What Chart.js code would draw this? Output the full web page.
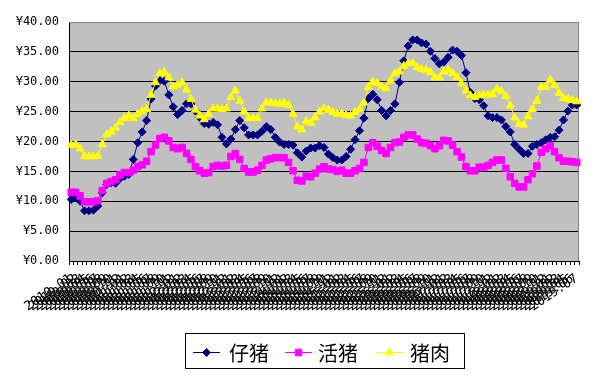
<!DOCTYPE html>
<html>
<head>
<meta charset="utf-8">
<script src="https://cdn.jsdelivr.net/npm/chart.js@4/dist/chart.umd.min.js"></script>
<style>
html,body{margin:0;padding:0;background:#fff;}
#wrap{width:595px;height:378px;position:relative;}
</style>
</head>
<body>
<div id="wrap"><canvas id="c" width="595" height="378"></canvas></div>
<script>
const categories = [
"2010.01","2010.02","2010.03","2010.04","2010.05","2010.06","2010.07","2010.08","2010.09","2010.10","2010.11","2010.12",
"2011.01","2011.02","2011.03","2011.04","2011.05","2011.06","2011.07","2011.08","2011.09","2011.10","2011.11","2011.12",
"2012.01","2012.02","2012.03","2012.04","2012.05","2012.06","2012.07","2012.08","2012.09","2012.10","2012.11","2012.12",
"2013.01","2013.02","2013.03","2013.04","2013.05","2013.06","2013.07","2013.08","2013.09","2013.10","2013.11","2013.12",
"2014.01","2014.02","2014.03","2014.04","2014.05","2014.06","2014.07","2014.08","2014.09","2014.10","2014.11","2014.12",
"2015.01","2015.02","2015.03","2015.04","2015.05","2015.06","2015.07","2015.08","2015.09","2015.10","2015.11","2015.12",
"2016.01","2016.02","2016.03","2016.04","2016.05","2016.06","2016.07","2016.08","2016.09","2016.10","2016.11","2016.12",
"2017.01","2017.02","2017.03","2017.04","2017.05","2017.06","2017.07","2017.08","2017.09","2017.10","2017.11","2017.12",
"2018.01","2018.02","2018.03","2018.04","2018.05","2018.06","2018.07","2018.08","2018.09","2018.10","2018.11","2018.12",
"2019.01","2019.02","2019.03","2019.04","2019.05","2019.06","2019.07"
];

const seriesNames = ["仔猪", "活猪", "猪肉"];

const piglet = [
10.3,10.6,10.0,8.4,8.4,8.5,9.2,11.4,12.8,13.1,13.0,13.8,
14.2,14.5,17.0,19.8,21.6,23.5,27.1,29.3,30.2,30.1,27.8,25.8,
24.5,25.2,26.3,26.3,25.1,24.0,23.0,22.9,23.2,22.8,20.7,19.6,
20.4,22.0,23.5,22.3,21.1,21.1,21.1,21.7,22.5,22.0,20.7,19.9,
19.5,19.5,19.4,18.1,17.4,18.4,18.9,18.9,19.3,19.0,17.9,17.3,
16.9,16.9,17.5,18.7,20.3,21.8,23.9,27.2,27.9,27.0,25.2,24.3,
25.2,26.3,29.9,33.5,36.0,37.0,37.0,36.5,36.3,35.1,33.9,33.0,
33.3,34.1,35.3,35.1,34.4,31.5,28.2,27.2,27.0,26.0,24.3,24.0,
24.0,23.6,22.5,21.6,19.5,18.7,18.0,18.0,19.2,19.5,19.8,20.3,
20.7,20.8,21.9,23.6,25.1,26.1,26.1
];

const liveHog = [
11.5,11.5,10.9,9.9,9.9,9.9,10.1,11.8,13.0,13.3,13.6,14.4,
14.8,14.8,15.2,15.8,16.1,16.7,18.3,19.4,20.5,20.7,20.1,19.0,
18.8,19.0,18.0,17.0,15.8,15.1,14.7,14.8,15.8,16.0,15.9,16.0,
17.5,18.0,17.0,15.5,14.9,14.9,15.2,16.0,16.9,17.1,17.3,17.3,
17.3,16.5,15.1,13.5,13.4,14.2,14.1,14.7,15.4,15.8,15.4,15.3,
15.0,15.2,14.7,14.7,15.1,15.5,16.5,19.0,19.8,19.2,18.5,18.0,
19.0,19.8,19.9,20.7,21.1,21.1,20.4,19.8,19.7,19.3,18.8,19.3,
20.2,20.1,19.4,18.3,17.4,15.8,15.1,15.1,15.7,15.7,16.0,16.5,
16.9,16.9,15.5,14.1,13.0,12.4,12.4,13.6,14.6,15.9,18.2,18.8,
19.3,18.3,17.3,16.7,16.7,16.6,16.5
];

const pork = [
19.4,19.5,18.8,17.5,17.5,17.5,17.6,19.5,21.2,21.6,22.3,23.2,
23.9,24.3,23.9,24.6,25.1,25.4,27.8,29.9,31.4,31.6,30.7,29.2,
29.5,29.9,28.7,27.1,25.3,24.3,23.7,24.6,25.5,25.5,25.4,25.5,
27.4,28.5,26.8,25.0,23.9,23.9,23.9,25.5,26.5,26.5,26.4,26.3,
26.5,26.1,24.6,22.5,22.0,23.4,23.1,24.0,25.0,25.5,25.3,24.9,
24.6,24.7,24.4,24.3,24.9,25.4,26.5,29.1,30.0,29.8,29.2,28.9,
30.2,31.4,31.7,32.6,33.1,33.1,32.4,32.1,32.0,31.6,30.7,30.7,
31.7,32.0,31.4,30.7,29.7,28.5,27.7,27.4,27.7,27.8,27.8,27.9,
28.8,28.4,27.6,26.0,24.0,22.9,22.8,24.2,25.4,26.8,29.1,29.1,
30.3,29.4,28.1,27.3,27.1,26.9,26.7
];

const yTicks = [0, 5, 10, 15, 20, 25, 30, 35, 40];

const colors = ["#000080", "#FF00FF", "#FFFF00"];
const styles = ["rectRot", "rect", "triangle"];
const radii = [4, 4.6, 4.6];

const plotBg = {
  id: 'plotBg',
  beforeDraw(chart) {
    const a = chart.chartArea, ctx = chart.ctx;
    ctx.save();
    ctx.fillStyle = '#C0C0C0';
    ctx.fillRect(a.left, a.top, a.right - a.left, a.bottom - a.top);
    ctx.restore();
  },
  beforeDatasetsDraw(chart) {
    const a = chart.chartArea, ctx = chart.ctx;
    ctx.save();
    ctx.strokeStyle = '#808080';
    ctx.lineWidth = 1;
    ctx.beginPath();
    ctx.moveTo(a.left, a.top + 0.5);
    ctx.lineTo(a.right - 0.5, a.top + 0.5);
    ctx.lineTo(a.right - 0.5, a.bottom);
    ctx.stroke();
    ctx.restore();
  }
};

const boxLegend = {
  id: 'boxLegend',
  afterDraw(chart) {
    const ctx = chart.ctx;
    ctx.save();
    ctx.strokeStyle = '#000';
    ctx.lineWidth = 1;
    ctx.strokeRect(185.5, 333.5, 279, 35);
    const items = [
      {lx: 193, tx: 229},
      {lx: 285, tx: 318},
      {lx: 376, tx: 410}
    ];
    const cy = 352;
    items.forEach((it, i) => {
      ctx.strokeStyle = colors[i];
      ctx.lineWidth = 1;
      ctx.beginPath();
      ctx.moveTo(it.lx, cy + 0.5);
      ctx.lineTo(it.lx + 27, cy + 0.5);
      ctx.stroke();
      ctx.fillStyle = colors[i];
      Chart.helpers.drawPoint(ctx, {pointStyle: styles[i], radius: radii[i], borderWidth: 1}, it.lx + 13.5, cy + 0.5);
      ctx.fillStyle = '#000';
      ctx.font = '20px "Noto Sans CJK SC"';
      ctx.textBaseline = 'middle';
      ctx.textAlign = 'left';
      ctx.fillText(seriesNames[i], it.tx, cy + 1);
    });
    ctx.restore();
  }
};

function ds(label, data, i, order) {
  return {
    label: label,
    data: data,
    borderColor: colors[i],
    backgroundColor: colors[i],
    borderWidth: 1,
    pointStyle: styles[i],
    pointRadius: radii[i],
    pointBorderWidth: 1,
    pointBorderColor: colors[i],
    pointBackgroundColor: colors[i],
    tension: 0,
    order: order
  };
}

new Chart(document.getElementById('c'), {
  type: 'line',
  data: {
    labels: categories,
    datasets: [
      ds(seriesNames[0], piglet, 0, 2),
      ds(seriesNames[1], liveHog, 1, 1),
      ds(seriesNames[2], pork, 2, 0)
    ]
  },
  options: {
    responsive: false,
    animation: false,
    events: [],
    layout: {padding: {top: 22, right: 16, left: 0, bottom: 0}},
    plugins: {legend: {display: false}, tooltip: {enabled: false}},
    scales: {
      x: {
        offset: true,
        afterFit(scale) { scale.height = 117; },
        grid: {offset: true, drawOnChartArea: false, drawTicks: true, tickLength: 4, color: '#000'},
        border: {display: true, color: '#000'},
        ticks: {
          autoSkip: false, maxRotation: 34, minRotation: 34, padding: 6,
          color: '#000',
          font: {family: '"DejaVu Sans Mono"', size: 13}
        }
      },
      y: {
        min: 0, max: 40,
        afterFit(scale) { scale.width = 69; },
        afterBuildTicks(scale) { scale.ticks = yTicks.map(v => ({value: v})); },
        grid: {
          drawTicks: false,
          color: ctx => (ctx.tick && ctx.tick.value === 40) ? '#808080' : '#000'
        },
        border: {display: true, color: '#000'},
        ticks: {
          padding: 10,
          color: '#000',
          font: {family: '"DejaVu Sans Mono"', size: 12},
          callback: v => '¥' + Number(v).toFixed(2)
        }
      }
    }
  },
  plugins: [plotBg, boxLegend]
});
</script>
</body>
</html>
